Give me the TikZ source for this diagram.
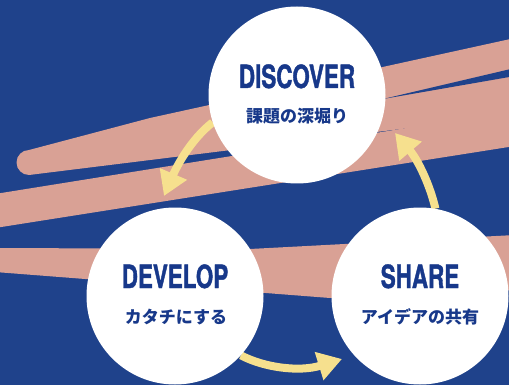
\documentclass[tikz,border=0pt]{standalone}
\usepackage{fontspec}
\usepackage{xcolor}
\usepackage{tikz}
\usetikzlibrary{
	arrows.meta
}
\newfontfamily\titlefont{TeX Gyre Heros}[FakeStretch=0.70,FakeBold=1.2]
\newfontfamily\jpfont{Noto Sans CJK JP}
\definecolor{navy}{HTML}{1F428B}
\definecolor{blush}{HTML}{D9A195}
\definecolor{sun}{HTML}{F6E08E}
\definecolor{ink}{HTML}{17388A}
\pgfdeclarelayer{back}
\pgfdeclarelayer{mid}
\pgfsetlayers{back,mid,main}

\begin{document}
\begin{tikzpicture}[x=1pt,y=-1pt,
	stage/.style={circle,fill=white,minimum size=177pt,inner sep=0pt},
	title/.style={anchor=base,text=ink,inner sep=0pt,font=\titlefont\bfseries\fontsize{32}{32}\selectfont},
	sub/.style={anchor=base,text=ink,inner sep=0pt,font=\jpfont\bfseries\fontsize{17}{17}\selectfont},
	turnarrow/.style={draw=sun,line width=8pt,-{Triangle[length=24pt,width=28pt]}}]
		\useasboundingbox (0,0) rectangle (509,385);
		\begin{pgfonlayer}{back}
		\fill[navy] (0,0) rectangle (509,385);
		% strokes
		\fill[blush] (29,150) -- (150,118) -- (515,38) -- (515,116) -- (417,127) -- (29,175)
			arc[start angle=90, end angle=270, radius=12.5] -- cycle;
		\fill[blush] (-5,194) -- (419,126) -- (515,110) -- (515,146) -- (-5,228) -- cycle;
		\fill[navy] (383,99) -- (515,68) -- (515,76) -- cycle;
		\fill[blush] (-5,248) -- (250,249) -- (515,235) -- (515,290) -- (330,298) -- (-5,272) -- cycle;
		\end{pgfonlayer}
		%
		\node[stage] (discover) at (297,95) {};
		\node[stage] (develop) at (175,296) {};
		\node[stage] (share) at (420,296) {};
		%
		\node[title] (discover-t) at (297,88) {DISCOVER};
		\node[sub] (discover-s) at (297,123) {課題の深堀り};
		\node[title] (develop-t) at (175,288) {DEVELOP};
		\node[sub] (develop-s) at (176,323) {カタチにする};
		\node[title] (share-t) at (420,288) {SHARE};
		\node[sub] (share-s) at (420,323) {アイデアの共有};
		%
		\coordinate (tip1) at (164,196);
		\coordinate (tip2) at (342,359);
		\coordinate (tip3) at (395,133);
		\begin{pgfonlayer}{mid}
		\draw[turnarrow] (discover.198) .. controls (190,140) and (176,168) .. (tip1);
		\draw[turnarrow] (develop.318) .. controls (265,368) and (300,372) .. (tip2);
		\draw[turnarrow] (share.80) .. controls (430,185) and (418,160) .. (tip3);
		\end{pgfonlayer}
	\end{tikzpicture}
\end{document}
